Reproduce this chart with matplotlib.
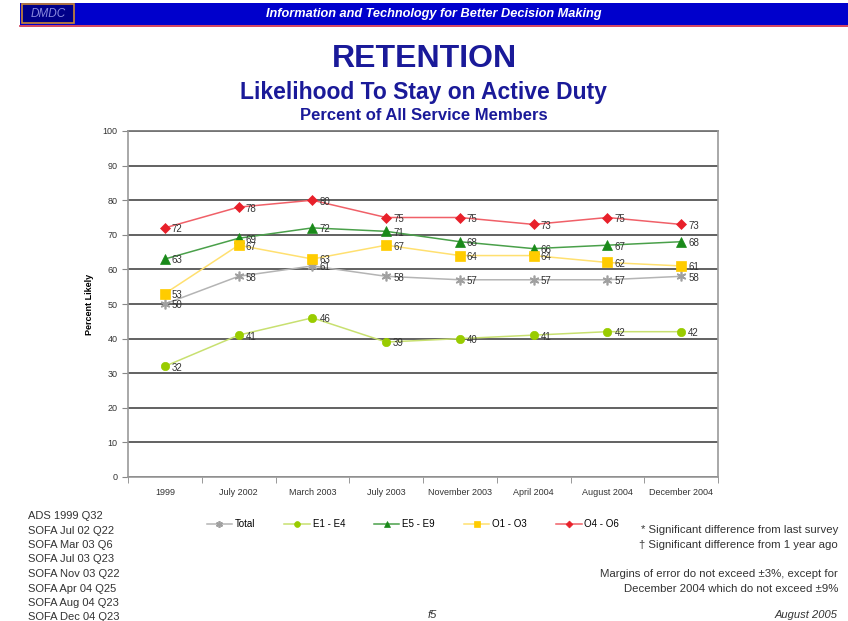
import matplotlib
matplotlib.use("Agg")
import matplotlib.pyplot as plt
from matplotlib.patches import Rectangle

plt.rcParams["font.family"] = ["Liberation Sans", "DejaVu Sans"]

# survey waves
waves = ["1999", "July 2002", "March 2003", "July 2003", "November 2003",
         "April 2004", "August 2004", "December 2004"]

total = [50, 58, 61, 58, 57, 57, 57, 58]
e1_e4 = [32, 41, 46, 39, 40, 41, 42, 42]
e5_e9 = [63, 69, 72, 71, 68, 66, 67, 68]
o1_o3 = [53, 67, 63, 67, 64, 64, 62, 61]
o4_o6 = [72, 78, 80, 75, 75, 73, 75, 73]

sources = ["ADS 1999 Q32", "SOFA Jul 02 Q22", "SOFA Mar 03 Q6", "SOFA Jul 03 Q23",
           "SOFA Nov 03 Q22", "SOFA Apr 04 Q25", "SOFA Aug 04 Q23", "SOFA Dec 04 Q23"]

# (label, values, marker, marker colour, line colour, marker size)
series = [
    ("Total", total, (6, 2, 0), "#a0a0a0", "#b4b4b4", 7),
    ("E1 - E4", e1_e4, "o", "#99cc00", "#c8e070", 6),
    ("E5 - E9", e5_e9, "^", "#1a8a1a", "#4aa04a", 7),
    ("O1 - O3", o1_o3, "s", "#ffcc00", "#ffe070", 7),
    ("O4 - O6", o4_o6, "D", "#e8202a", "#f06068", 5),
]

navy = "#1a1a99"

fig = plt.figure(figsize=(8.48, 6.21), dpi=100)

# banner
ban = fig.add_axes([20 / 848, 1 - 25 / 621, 828 / 848, 22 / 621])
ban.set_xlim(0, 1)
ban.set_ylim(0, 1)
ban.axis("off")
ban.add_patch(Rectangle((0, 0), 1, 1, color="#0000cc", transform=ban.transAxes))
ban.add_patch(Rectangle((0.003, 0.1), 0.062, 0.85, facecolor="#000088",
                        edgecolor="#cc8833", linewidth=1.2, transform=ban.transAxes))
ban.text(0.034, 0.5, "DMDC", color="#8888dd", fontsize=8.5, style="italic",
         ha="center", va="center", transform=ban.transAxes)
ban.text(0.5, 0.5, "Information and Technology for Better Decision Making",
         color="white", fontsize=9.2, style="italic", fontweight="bold",
         ha="center", va="center", transform=ban.transAxes)
fig.add_artist(plt.Line2D([20 / 848, 1], [1 - 26 / 621] * 2, color="#cc2244",
                          linewidth=1.2))

# titles
fig.text(0.5, 1 - 59 / 621, "RETENTION", ha="center", va="center",
         fontsize=23, fontweight="bold", color=navy)
fig.text(0.5, 1 - 93 / 621, "Likelihood To Stay on Active Duty", ha="center",
         va="center", fontsize=16.5, fontweight="bold", color=navy)
fig.text(0.5, 1 - 116 / 621, "Percent of All Service Members", ha="center",
         va="center", fontsize=12, fontweight="bold", color=navy)

ax = fig.add_axes([128 / 848, 1 - 477 / 621, 590 / 848, 346 / 621])
x = list(range(len(waves)))
handles = []
for label, vals, mk, mc, lc, ms in series:
    h, = ax.plot(x, vals, color=lc, linewidth=1.1, marker=mk, markersize=ms,
                 markerfacecolor=mc, markeredgecolor=mc,
                 markeredgewidth=1.2 if label == "Total" else 0.5, label=label,
                 zorder=3)
    handles.append(h)
    for xi, v in zip(x, vals):
        ax.annotate(str(v), (xi, v), xytext=(5, -1), textcoords="offset points",
                    ha="left", va="center", fontsize=7, color="#333333",
                    zorder=4)

ax.set_xlim(-0.5, len(waves) - 0.5)
ax.set_ylim(0, 100)
ax.set_yticks(range(0, 101, 10))
ax.set_xticks(x)
ax.set_xticklabels(waves)
ax.set_xticks([i + 0.5 for i in range(-1, len(waves))], minor=True)
ax.tick_params(axis="x", which="major", length=0, labelsize=6.5,
               colors="#333333", pad=8)
ax.tick_params(axis="x", which="minor", length=4, color="#888888")
ax.tick_params(axis="y", length=4, labelsize=6.5, colors="#333333",
               color="#888888")
ax.yaxis.grid(True, color="#555555", linewidth=1.3)
ax.axhline(100, color="#777777", linewidth=1.3, clip_on=False, zorder=1)
ax.set_axisbelow(True)
for side in ["left", "bottom", "right"]:
    ax.spines[side].set_color("#999999")
    ax.spines[side].set_linewidth(1.2)
ax.spines["top"].set_visible(False)
ax.set_ylabel("Percent Likely", fontsize=6.5, fontweight="bold", labelpad=6)

fig.legend(handles=handles, loc="center", bbox_to_anchor=(0.487, 1 - 524 / 621),
           ncol=5, frameon=False, fontsize=7, handlelength=2.6, columnspacing=3.0,
           handletextpad=0.3, markerscale=0.7)

# footnotes
for i, s in enumerate(sources):
    fig.text(28 / 848, 1 - (516 + i * 14.5) / 621, s, fontsize=8,
             color="#333333", va="center", ha="left")

right_notes = [
    (530, "* Significant difference from last survey"),
    (545, "\u2020 Significant difference from 1 year ago"),
    (574, "Margins of error do not exceed \u00b13%, except for"),
    (589, "December 2004 which do not exceed \u00b19%"),
]
for yy, s in right_notes:
    fig.text(838 / 848, 1 - yy / 621, s, fontsize=8.2, color="#333333",
             va="center", ha="right")

fig.text(432 / 848, 1 - 615 / 621, "f5", fontsize=8, style="italic",
         color="#333333", ha="center", va="center")
fig.text(838 / 848, 1 - 615 / 621, "August 2005", fontsize=8, style="italic",
         color="#333333", ha="right", va="center")

fig.savefig("out.png", dpi=100, facecolor="white")
